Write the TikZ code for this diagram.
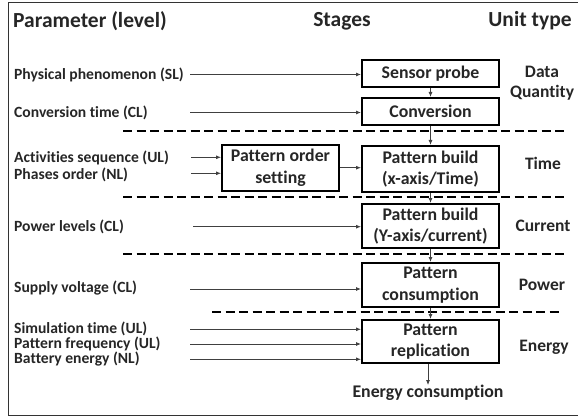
\documentclass[tikz,border=0pt]{standalone}
\usepackage{fontspec}
\setmainfont{Carlito}[Ligatures=NoCommon]
\usetikzlibrary{arrows.meta}
\begin{document}
\begin{tikzpicture}[x=1pt,y=-1pt,
  every node/.style={font=\bfseries, text=black!85},
  hdr/.style={font=\bfseries\fontsize{21.5}{24}\selectfont, inner sep=0pt},
  lbl/.style={font=\bfseries\fontsize{15.6}{16}\selectfont, anchor=west, inner sep=0pt},
  unit/.style={font=\bfseries\fontsize{17.5}{20}\selectfont, align=center, inner sep=0pt},
  stagebox/.style={draw=black, line width=2pt, minimum width=137pt, align=center,
     font=\bfseries\fontsize{17.8}{21.5}\selectfont, inner sep=0pt},
  conn/.style={draw=black!75, line width=0.8pt, -{Latex[length=5pt,width=4pt]}},
  sep/.style={draw=black, line width=2.3pt, dash pattern=on 9pt off 4.5pt}
]
\useasboundingbox (0,0) rectangle (578,417);
\clip (0,0) rectangle (578,417);
\draw[black!80, line width=1pt] (8,2.5) rectangle (582,415.5);

% headers
\node[hdr, anchor=west] (hparam) at (13,21) {Parameter (level)};
\node[hdr] (hstage) at (342,21) {Stages};
\node[hdr] (hunit) at (530,21) {Unit type};

% separators
\draw[sep] (123,131) -- (568,131);
\draw[sep] (123,197) -- (568,197);
\draw[sep] (123,254) -- (568,254);
\draw[sep] (212,312) -- (562,312);

% stage boxes
\node[stagebox, minimum height=27pt] (sensor) at (430.5,73.3) {Sensor probe};
\node[stagebox, minimum height=27pt] (conv) at (430.5,111.5) {Conversion};
\node[stagebox, minimum height=46pt] (pbx) at (430.5,169) {Pattern build\\(x-axis/Time)};
\node[stagebox, minimum height=46pt, minimum width=117pt] (pos) at (280.5,168) {Pattern order\\setting};
\node[stagebox, minimum height=44pt] (pby) at (430.5,226) {Pattern build\\(Y-axis/current)};
\node[stagebox, minimum height=44pt] (pcons) at (430.5,285) {Pattern\\consumption};
\node[stagebox, minimum height=43pt] (prep) at (430.5,341.5) {Pattern\\replication};
\node[font=\bfseries\fontsize{17.8}{21}\selectfont, inner sep=0pt] (econs) at (428,393) {Energy consumption};

% unit types
\node[unit] (udata) at (542,83) {Data\\Quantity};
\node[unit] (utime) at (543,163) {Time};
\node[unit] (ucur) at (543,226) {Current};
\node[unit] (upow) at (542,285) {Power};
\node[unit] (uen) at (544,347) {Energy};

% parameter labels
\node[lbl] (lphys) at (14,75) {Physical phenomenon (SL)};
\node[lbl] (lconv) at (14,112.5) {Conversion time (CL)};
\node[lbl] (lact) at (14,158) {Activities sequence (UL)};
\node[lbl] (lphase) at (14,174.5) {Phases order (NL)};
\node[lbl] (lpow) at (14,227) {Power levels (CL)};
\node[lbl] (lsup) at (14,288.5) {Supply voltage (CL)};
\node[lbl] (lsim) at (14,329) {Simulation time (UL)};
\node[lbl] (lfreq) at (14,344) {Pattern frequency (UL)};
\node[lbl] (lbat) at (14,359.5) {Battery energy (NL)};

% start coordinates
\coordinate (cphys) at (190,74.5);
\coordinate (cconv) at (190,112.5);
\coordinate (cact) at (191,157.3);
\coordinate (cphase) at (191,173.3);
\coordinate (cpow) at (193,226.7);
\coordinate (csup) at (190,289);
\coordinate (csim) at (190,329.3);
\coordinate (cfreq) at (190,344);
\coordinate (cbat) at (190,359.3);

% connectors from parameters
\draw[conn] (cphys) -- (sensor.west |- cphys);
\draw[conn] (cconv) -- (conv.west |- cconv);
\draw[conn] (cact) -- (pos.west |- cact);
\draw[conn] (cphase) -- (pos.west |- cphase);
\draw[conn] (pos.east |- 0,167.7) -- (pbx.west |- 0,167.7);
\draw[conn] (cpow) -- (pby.west |- cpow);
\draw[conn] (csup) -- (pcons.west |- csup);
\draw[conn] (csim) -- (prep.west |- csim);
\draw[conn] (cfreq) -- (prep.west |- cfreq);
\draw[conn] (cbat) -- (prep.west |- cbat);

% vertical flow
\draw[conn] (sensor) -- (conv);
\draw[conn] (conv) -- (pbx);
\draw[conn] (pbx) -- (pby);
\draw[conn] (pby) -- (pcons);
\draw[conn] (pcons) -- (prep);
\draw[conn] (prep.south -| econs) -- (econs.north);
\end{tikzpicture}
\end{document}
